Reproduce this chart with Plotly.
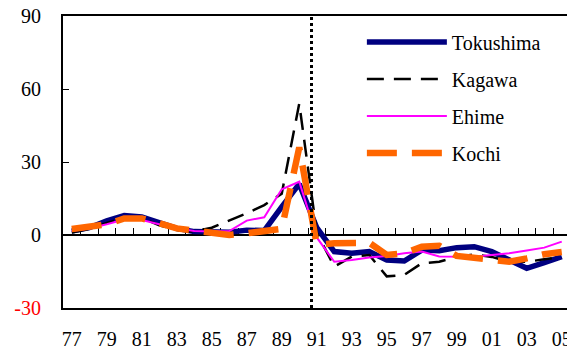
import plotly.graph_objects as go

# Annual growth rates (%) for the four Shikoku prefectures, 1977-2005
years = list(range(1977, 2006))

tokushima = [1.6, 3.0, 5.8, 8.0, 7.4, 5.2, 2.7, 1.4, 1.1, 1.1, 2.0, 1.8, 11.6, 21.0,
             3.0, -6.8, -7.5, -6.8, -10.3, -10.7, -6.2, -6.5, -5.2, -4.8, -6.8, -10.3,
             -13.7, -11.4, -8.9]
kagawa = [1.0, 2.5, 5.0, 7.0, 7.0, 4.0, 2.0, 1.4, 3.0, 5.8, 8.9, 12.3, 17.0, 54.0,
          1.0, -13.0, -8.9, -8.2, -17.0, -16.4, -11.6, -11.0, -9.0, -8.0, -9.0, -11.0,
          -11.0, -10.0, -9.0]
ehime = [1.6, 2.7, 4.4, 6.4, 6.2, 4.4, 2.7, 1.6, 1.4, 1.6, 5.9, 7.3, 18.8, 21.9,
         -1.0, -11.0, -10.3, -9.2, -8.6, -7.5, -6.8, -8.8, -8.9, -8.9, -8.2, -7.5,
         -6.4, -5.2, -2.7]
kochi = [2.5, 3.3, 4.4, 6.8, 6.8, 4.8, 2.7, 1.8, 0.7, 0.0, 0.7, 1.4, 2.5, 36.0,
         -4.0, -3.4, -3.3, -3.2, -8.2, -7.5, -4.8, -4.4, -8.6, -9.5, -10.3, -11.0,
         -9.6, -7.9, -7.0]

label_years = list(range(1977, 2006, 2))
label_text = [f"{y % 100:02d}" for y in label_years]
y_ticks = [-30, 0, 30, 60, 90]
y_text = ['<span style="color:#ff0000">-30</span>', "0", "30", "60", "90"]
break_year = 1990.7  # dotted separator just before 1991

FONT = "Times New Roman, Liberation Serif, serif"

series = [
    ("Tokushima", tokushima, dict(color="#000080", width=5.5)),
    ("Kagawa", kagawa, dict(color="#000000", width=2.5, dash="17px,10px")),
    ("Ehime", ehime, dict(color="#ff00ff", width=2)),
    ("Kochi", kochi, dict(color="#ff6600", width=6.5, dash="30px,15px")),
]

fig = go.Figure()
for i, (name, vals, line) in enumerate(series):
    fig.add_trace(go.Scatter(
        x=years, y=vals, name=name, mode="lines", line=line,
        legendgroup=f"g{i}", xaxis="x2",
    ))

x_range = [1976.5, 2005.3]

fig.update_layout(
    template="none",
    width=567, height=351,
    margin=dict(l=63, r=0, t=16, b=43, autoexpand=False),
    paper_bgcolor="white", plot_bgcolor="white",
    font=dict(family=FONT, size=20, color="black"),
    showlegend=True,
    legend=dict(
        x=0.593, y=0.978, xanchor="left", yanchor="top",
        bgcolor="rgba(0,0,0,0)", borderwidth=0,
        font=dict(family=FONT, size=20),
        itemwidth=80, tracegroupgap=8,
    ),
    # frame and year labels along the bottom
    xaxis=dict(
        range=x_range, anchor="y", side="bottom",
        showline=True, linecolor="black", linewidth=2, mirror=True,
        tickmode="array", tickvals=label_years, ticktext=label_text,
        ticks="", showgrid=False, zeroline=False, automargin=False,
        ticklabelstandoff=12, ticklabeloverflow="allow",
        tickfont=dict(family=FONT, size=20),
    ),
    # category tick marks along the zero line
    xaxis2=dict(
        range=x_range, overlaying="x", anchor="free", position=0.25,
        showline=True, linecolor="black", linewidth=1.5,
        tickmode="array", tickvals=[y + 0.5 for y in years[:-1]],
        ticks="inside", ticklen=6, tickwidth=1, tickcolor="black",
        showticklabels=False, showgrid=False, zeroline=False,
        layer="below traces", automargin=False,
    ),
    yaxis=dict(
        range=[-30, 90], tickmode="array", tickvals=y_ticks, ticktext=y_text,
        showline=True, linecolor="black", linewidth=2,
        ticks="inside", ticklen=6, tickwidth=1, tickcolor="black",
        showgrid=False, zeroline=False, ticklabelstandoff=16, automargin=False,
        tickfont=dict(family=FONT, size=20),
    ),
    shapes=[dict(
        type="line", xref="x", yref="paper",
        x0=break_year, x1=break_year, y0=0, y1=1,
        line=dict(color="black", width=3, dash="dot"),
    )],
)

fig.write_html("out.html")
